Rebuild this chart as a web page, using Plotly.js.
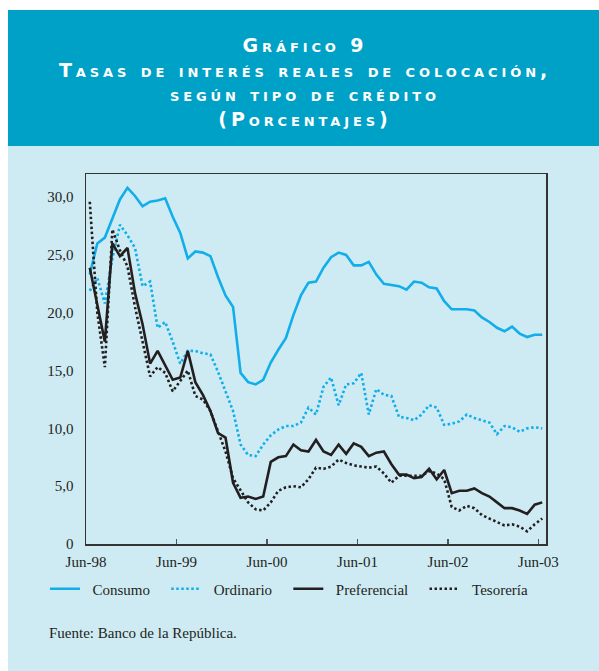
<!DOCTYPE html>
<html>
<head>
<meta charset="utf-8">
<script src="https://cdn.plot.ly/plotly-3.0.1.min.js"></script>
<style>
html, body { margin: 0; padding: 0; background: #ffffff; }
#chart { width: 599px; height: 671px; }
.gtitle { letter-spacing: 3.9px; }
</style>
</head>
<body>
<div id="chart"></div>
<script>
// Monthly observations, Jun-98 ... Jun-03 (61 months)
const monthNames = ['Jun','Jul','Ago','Sep','Oct','Nov','Dic','Ene','Feb','Mar','Abr','May'];
const months = [];
for (let i = 0; i < 61; i++) {
  const yr = 98 + Math.floor(i / 12);
  months.push(monthNames[i % 12] + '-' + String(yr % 100).padStart(2, '0'));
}

const consumo = [23.3, 26.0, 26.5, 28.2, 29.8, 30.8, 30.1, 29.2, 29.6, 29.7, 29.9,
  28.3, 26.9, 24.7, 25.3, 25.2, 24.9, 23.1, 21.5, 20.5, 14.8,
  14.0, 13.8, 14.2, 15.7, 16.8, 17.8, 19.8, 21.5, 22.6, 22.7,
  23.9, 24.8, 25.2, 25.0, 24.1, 24.1, 24.4, 23.3, 22.5, 22.4,
  22.3, 22.0, 22.7, 22.6, 22.2, 22.1, 21.0, 20.3, 20.3, 20.3,
  20.2, 19.6, 19.2, 18.7, 18.4, 18.8, 18.2, 17.9, 18.1, 18.1];

const ordinario = [21.9, 23.0, 20.8, 24.7, 27.6, 26.7, 25.6, 22.3, 22.7, 18.7, 19.2,
  17.5, 15.6, 16.7, 16.7, 16.5, 16.4, 14.9, 13.2, 11.5, 8.6,
  7.7, 7.6, 8.6, 9.4, 9.9, 10.2, 10.2, 10.5, 11.8, 11.2,
  13.6, 14.4, 12.0, 13.8, 13.9, 14.8, 11.2, 13.4, 12.9, 12.8,
  11.0, 10.9, 10.7, 11.2, 12.0, 11.8, 10.3, 10.4, 10.6, 11.2,
  10.9, 10.7, 10.5, 9.5, 10.2, 10.1, 9.7, 10.0, 10.1, 10.0];

const preferencial = [23.9, 20.7, 17.5, 26.0, 24.9, 25.6, 21.7, 19.0, 15.6, 16.7, 15.5,
  14.2, 14.4, 16.7, 14.0, 12.9, 11.5, 9.6, 9.2, 5.3, 4.0,
  4.1, 3.9, 4.1, 7.1, 7.5, 7.6, 8.6, 8.1, 8.0, 9.0,
  8.0, 7.7, 8.6, 7.8, 8.7, 8.4, 7.6, 7.9, 8.0, 6.9,
  6.0, 6.0, 5.7, 5.8, 6.5, 5.6, 6.4, 4.4, 4.6, 4.6,
  4.8, 4.4, 4.1, 3.6, 3.1, 3.1, 2.9, 2.6, 3.4, 3.6];

const tesoreria = [29.6, 20.0, 15.3, 27.2, 25.4, 24.0, 20.5, 17.6, 14.5, 15.3, 14.8,
  13.2, 14.1, 15.0, 12.8, 12.5, 11.5, 9.8, 8.0, 5.7, 4.6,
  3.6, 3.0, 2.9, 3.6, 4.6, 4.9, 5.0, 4.9, 5.6, 6.6,
  6.5, 6.7, 7.3, 7.0, 6.8, 6.7, 6.6, 6.7, 6.1, 5.3,
  5.9, 5.9, 5.9, 5.9, 6.3, 6.1, 5.6, 3.2, 2.9, 3.3,
  3.1, 2.5, 2.2, 1.9, 1.6, 1.7, 1.5, 1.1, 1.7, 2.2];

const seriesNames = ['Consumo', 'Ordinario', 'Preferencial', 'Tesorería'];
const xTickVals = [0, 12, 24, 36, 48, 60];
const xTickText = ['Jun-98', 'Jun-99', 'Jun-00', 'Jun-01', 'Jun-02', 'Jun-03'];
const yTickVals = [0, 5, 10, 15, 20, 25, 30];
const yTickText = ['0', '5,0', '10,0', '15,0', '20,0', '25,0', '30,0'];

// points sit at mid-month
const xPos = months.map((m, i) => i + 0.5);

const BLUE = '#12AEEA';
const BLACK = '#231F20';
const TEAL = '#00A1C7';
const PANEL = '#CEEBF4';

// legend entry padding (non-breaking spaces) to reproduce the wider legend spacing
const pad = s => '\u00a0\u00a0' + s + '\u00a0\u00a0\u00a0';

const traces = [
  {x: xPos, y: consumo, name: pad(seriesNames[0]), text: months, type: 'scatter', mode: 'lines',
   line: {color: BLUE, width: 2.6}},
  {x: xPos, y: ordinario, name: pad(seriesNames[1]), text: months, type: 'scatter', mode: 'lines',
   line: {color: BLUE, width: 2.6, dash: '2.5px,2.5px'}},
  {x: xPos, y: preferencial, name: pad(seriesNames[2]), text: months, type: 'scatter', mode: 'lines',
   line: {color: BLACK, width: 2.6}},
  {x: xPos, y: tesoreria, name: pad(seriesNames[3]), text: months, type: 'scatter', mode: 'lines',
   line: {color: BLACK, width: 2.6, dash: '2.5px,2.5px'}}
];

// plot area in pixels: x 86..545.7, y 174..544
const L = 86, R = 545.7, T = 174, B = 544;
const px = v => (v - L) / (R - L);
const py = v => (B - v) / (B - T);

const serif = 'Liberation Serif, Times New Roman, serif';

const layout = {
  width: 599, height: 671,
  margin: {l: L, r: 599 - R, t: T, b: 671 - B, pad: 0},
  paper_bgcolor: '#ffffff',
  plot_bgcolor: PANEL,
  showlegend: true,
  title: {
    text: 'Gráfico 9<br>Tasas de interés reales de colocación,<br>según tipo de crédito<br>(Porcentajes)',
    font: {family: 'DejaVu Sans', size: 19, color: '#ffffff', weight: 'bold', variant: 'small-caps'},
    xref: 'container', x: 305 / 599, xanchor: 'center',
    yref: 'container', y: 1 - 52 / 671, yanchor: 'top'
  },
  xaxis: {
    range: [0, 61], tickmode: 'array', tickvals: xTickVals, ticktext: xTickText,
    ticks: 'inside', ticklen: 5, tickwidth: 1.5, tickcolor: '#555555',
    ticklabelstandoff: 3,
    showline: true, linecolor: '#333333', linewidth: 1.5, mirror: true,
    showgrid: false, zeroline: false, fixedrange: true,
    tickfont: {family: serif, size: 15, color: BLACK}
  },
  yaxis: {
    range: [0, 32], tickmode: 'array', tickvals: yTickVals, ticktext: yTickText,
    ticks: '', ticklabelstandoff: 8,
    showline: true, linecolor: '#333333', linewidth: 1.5, mirror: true,
    showgrid: false, zeroline: false, fixedrange: true,
    tickfont: {family: serif, size: 15, color: BLACK}
  },
  legend: {
    orientation: 'h', xref: 'paper', yref: 'paper',
    x: px(45), xanchor: 'left', y: py(589), yanchor: 'middle',
    bgcolor: 'rgba(0,0,0,0)', font: {family: serif, size: 15, color: BLACK},
    itemwidth: 30, traceorder: 'normal'
  },
  shapes: [
    {type: 'rect', xref: 'paper', yref: 'paper', layer: 'below',
     x0: px(8), x1: px(620), y0: py(700), y1: py(146),
     fillcolor: PANEL, line: {width: 0}},
    {type: 'rect', xref: 'paper', yref: 'paper', layer: 'below',
     x0: px(8), x1: px(620), y0: py(146), y1: py(10),
     fillcolor: TEAL, line: {width: 0}}
  ],
  annotations: [
    {text: 'Fuente: Banco de la República.', xref: 'paper', yref: 'paper',
     x: px(47), y: py(633), xanchor: 'left', yanchor: 'middle', showarrow: false,
     font: {family: serif, size: 15, color: BLACK}}
  ]
};

Plotly.newPlot('chart', traces, layout, {displayModeBar: false, staticPlot: true});
</script>
</body>
</html>
